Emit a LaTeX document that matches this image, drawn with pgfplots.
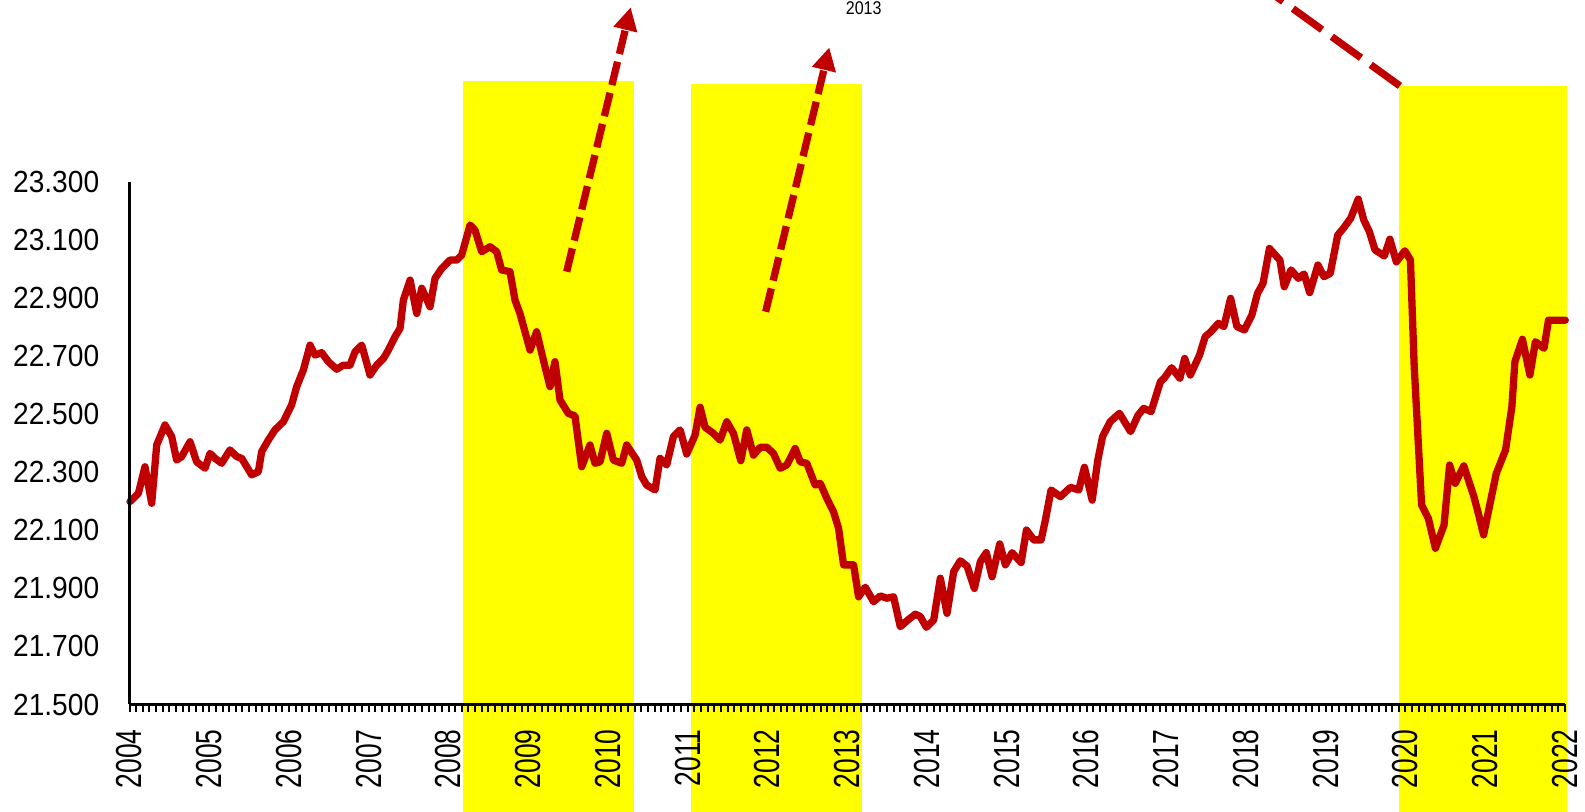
\documentclass[border=0pt]{standalone}
\usepackage{fontspec}
\setmainfont{Liberation Sans}
\newfontfamily\yfont[FakeStretch=0.92]{Liberation Sans}
\newfontfamily\xfont[FakeStretch=0.73]{Liberation Sans}
\newfontfamily\tfont[FakeStretch=0.87]{Liberation Sans}
\usepackage{pgfplots}
\pgfplotsset{compat=1.18}
\usetikzlibrary{arrows.meta}
\definecolor{dred}{HTML}{C00000}
\definecolor{yel}{HTML}{FFFF00}
\begin{document}
\begin{tikzpicture}
\begin{axis}[
  scale only axis,
  width=28.71cm, height=10.45cm,
  xmin=2004, xmax=2022, ymin=21.5, ymax=23.3,
  enlargelimits=false,
  clip=false,
  axis on top,
  axis x line*=bottom, axis y line*=left,
  x axis line style={-, line width=0.06cm},
  y axis line style={-, line width=0.06cm},
  tick align=outside,
  major tick length=0.15cm, minor tick length=0.15cm,
  xtick={2004,2005,2006,2007,2008,2009,2010,2011,2012,2013,2014,2015,2016,2017,2018,2019,2020,2021,2022},
  xticklabels={2004,2005,2006,2007,2008,2009,2010,2011,2012,2013,2014,2015,2016,2017,2018,2019,2020,2021,2022},
  minor x tick num=11,
  xtick style={line width=0.04cm, black},
  minor x tick style={line width=0.04cm, black},
  ytick={21.5,21.7,21.9,22.1,22.3,22.5,22.7,22.9,23.1,23.3},
  yticklabels={21.500,21.700,21.900,22.100,22.300,22.500,22.700,22.900,23.100,23.300},
  ytick style={draw=none},
  xticklabel style={font=\xfont\fontsize{20.6}{22}\selectfont, yshift=-0.34cm, rotate=90, anchor=east, inner sep=0pt},
  yticklabel style={font=\yfont\fontsize{17.4}{20}\selectfont, anchor=east, inner sep=0pt, xshift=-0.45cm},
]
\fill[yel] (axis cs:2008.182,21.0) rectangle (axis cs:2010.326,23.648);
\fill[yel] (axis cs:2011.046,21.0) rectangle (axis cs:2013.185,23.637);
\fill[yel] (axis cs:2019.918,21.0) rectangle (axis cs:2022.024,23.630);
\addplot[color=dred, line width=0.146cm, line join=round, line cap=round] coordinates {
(2004.006,22.199) (2004.111,22.227) (2004.194,22.319) (2004.278,22.193) (2004.341,22.394)
(2004.445,22.463) (2004.529,22.423) (2004.591,22.342) (2004.654,22.354) (2004.759,22.405)
(2004.842,22.336) (2004.947,22.314) (2005.009,22.365) (2005.072,22.348) (2005.156,22.331)
(2005.260,22.377) (2005.344,22.354) (2005.406,22.348) (2005.532,22.291) (2005.616,22.302)
(2005.657,22.371) (2005.741,22.411) (2005.824,22.446) (2005.929,22.474) (2006.033,22.532)
(2006.096,22.595) (2006.180,22.652) (2006.264,22.738) (2006.326,22.704) (2006.410,22.712)
(2006.493,22.681) (2006.598,22.655) (2006.682,22.669) (2006.765,22.669) (2006.828,22.715)
(2006.912,22.738) (2007.016,22.635) (2007.100,22.669) (2007.184,22.692) (2007.246,22.721)
(2007.330,22.767) (2007.393,22.796) (2007.434,22.893) (2007.518,22.962) (2007.602,22.847)
(2007.664,22.934) (2007.768,22.870) (2007.831,22.968) (2007.915,23.002) (2008.019,23.031)
(2008.103,23.031) (2008.165,23.048) (2008.270,23.152) (2008.332,23.134) (2008.416,23.060)
(2008.520,23.077) (2008.604,23.060) (2008.666,22.997) (2008.771,22.991) (2008.834,22.893)
(2008.896,22.847) (2009.022,22.721) (2009.105,22.784) (2009.189,22.687) (2009.273,22.595)
(2009.335,22.681) (2009.398,22.549) (2009.502,22.503) (2009.586,22.494) (2009.670,22.319)
(2009.774,22.394) (2009.837,22.331) (2009.900,22.336) (2009.984,22.434) (2010.067,22.342)
(2010.172,22.331) (2010.234,22.394) (2010.360,22.342) (2010.423,22.285) (2010.485,22.256)
(2010.590,22.239) (2010.653,22.348) (2010.736,22.325) (2010.820,22.423) (2010.904,22.446)
(2010.987,22.363) (2011.092,22.428) (2011.155,22.524) (2011.217,22.455) (2011.322,22.434)
(2011.405,22.411) (2011.489,22.474) (2011.573,22.434) (2011.665,22.340) (2011.740,22.446)
(2011.824,22.359) (2011.908,22.386) (2011.992,22.386) (2012.075,22.365) (2012.159,22.314)
(2012.242,22.325) (2012.347,22.382) (2012.410,22.336) (2012.493,22.331) (2012.598,22.256)
(2012.661,22.262) (2012.744,22.210) (2012.828,22.164) (2012.891,22.107) (2012.954,21.981)
(2013.079,21.981) (2013.142,21.871) (2013.226,21.904) (2013.330,21.854) (2013.414,21.874)
(2013.498,21.866) (2013.581,21.871) (2013.665,21.768) (2013.769,21.793) (2013.853,21.811)
(2013.916,21.803) (2013.992,21.766) (2014.084,21.791) (2014.167,21.935) (2014.251,21.814)
(2014.335,21.958) (2014.418,21.995) (2014.502,21.977) (2014.594,21.900) (2014.669,21.992)
(2014.744,22.023) (2014.816,21.940) (2014.912,22.053) (2014.983,21.981) (2015.067,22.023)
(2015.180,21.989) (2015.247,22.101) (2015.339,22.067) (2015.431,22.067) (2015.485,22.136)
(2015.556,22.239) (2015.673,22.216) (2015.799,22.248) (2015.903,22.239) (2015.974,22.317)
(2016.071,22.204) (2016.142,22.342) (2016.202,22.423) (2016.296,22.474) (2016.413,22.503)
(2016.553,22.440) (2016.647,22.497) (2016.717,22.520) (2016.810,22.509) (2016.927,22.612)
(2016.974,22.624) (2017.067,22.660) (2017.171,22.624) (2017.231,22.692) (2017.302,22.635)
(2017.418,22.704) (2017.488,22.767) (2017.559,22.784) (2017.653,22.813) (2017.723,22.802)
(2017.807,22.899) (2017.886,22.802) (2017.980,22.790) (2018.074,22.842) (2018.144,22.916)
(2018.214,22.951) (2018.294,23.071) (2018.425,23.031) (2018.480,22.939) (2018.564,22.997)
(2018.658,22.968) (2018.728,22.983) (2018.799,22.919) (2018.902,23.014) (2018.977,22.974)
(2019.056,22.985) (2019.150,23.117) (2019.220,23.140) (2019.313,23.175) (2019.407,23.241)
(2019.477,23.169) (2019.547,23.129) (2019.618,23.066) (2019.734,23.045) (2019.804,23.103)
(2019.885,23.025) (2019.992,23.063) (2020.062,23.031) (2020.109,22.666) (2020.202,22.187)
(2020.287,22.141) (2020.375,22.038) (2020.483,22.118) (2020.553,22.325) (2020.623,22.262)
(2020.731,22.322) (2020.858,22.216) (2020.918,22.153) (2020.979,22.084) (2021.138,22.296)
(2021.255,22.377) (2021.334,22.526) (2021.372,22.681) (2021.466,22.758) (2021.560,22.635)
(2021.629,22.750) (2021.737,22.727) (2021.793,22.824) (2022.004,22.824)
};
\draw[dred, line width=0.146cm, dash pattern=on 0.48cm off 0.16cm, -{Triangle[length=0.46cm,width=0.46cm]}]
  (axis cs:2009.482,22.991) -- (axis cs:2010.285,23.902);
\draw[dred, line width=0.146cm, dash pattern=on 0.48cm off 0.16cm, -{Triangle[length=0.46cm,width=0.46cm]}]
  (axis cs:2011.977,22.853) -- (axis cs:2012.775,23.764);
\draw[dred, line width=0.146cm, dash pattern=on 0.72cm off 0.24cm, -{Triangle[length=0.46cm,width=0.46cm]}]
  (axis cs:2019.930,23.631) -- (axis cs:2016.946,24.223);
\node[font=\tfont\fontsize{10.5}{12}\selectfont, inner sep=0pt] at (axis cs:2013.206,23.898) {2013};
\coordinate (BBsw) at (axis cs:2002.376,21.1297);
\coordinate (BBne) at (axis cs:2022.251,23.927);
\end{axis}
\pgfresetboundingbox
\useasboundingbox (BBsw) rectangle (BBne);
\end{tikzpicture}
\end{document}
